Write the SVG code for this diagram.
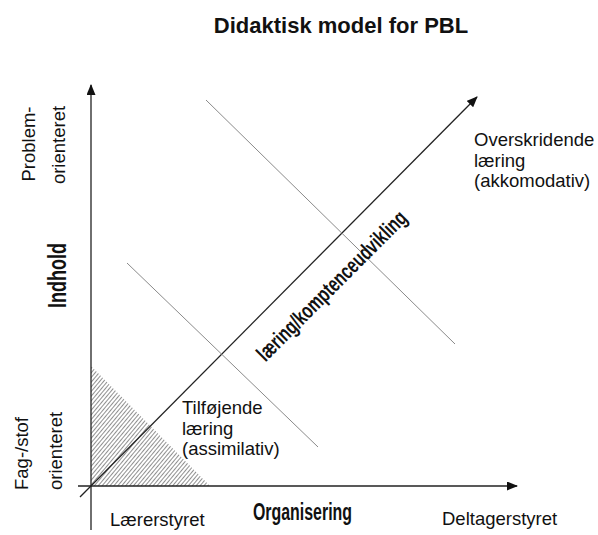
<svg xmlns="http://www.w3.org/2000/svg" width="598" height="535" viewBox="0 0 598 535">
<style>
  .lbl { font-family: "Liberation Sans", Arial, sans-serif; font-size: 18.5px; fill: #111; }
  .bold { font-family: "Liberation Sans", Arial, sans-serif; font-weight: bold; fill: #111; }
  .axis { stroke: #222; stroke-width: 1.3; fill: none; }
  .guide { stroke: #8a8a8a; stroke-width: 1; fill: none; }
</style>
<defs>
  <marker id="arrow" viewBox="0 0 11 9" refX="10" refY="4.5" markerWidth="11" markerHeight="9" markerUnits="userSpaceOnUse" orient="auto">
    <path d="M0,0 L11,4.5 L0,9 z" fill="#111"/>
  </marker>
  <pattern id="hatch" width="3" height="3" patternUnits="userSpaceOnUse" patternTransform="rotate(40)">
    <line x1="0" y1="0" x2="0" y2="3" stroke="#333" stroke-width="1.1"/>
  </pattern>
</defs>

<g id="title">
  <text class="bold" x="341" y="33" font-size="22" text-anchor="middle">Didaktisk model for PBL</text>
</g>

<g id="hatched-area">
  <polygon points="91,366 91,486 210,486" fill="url(#hatch)"/>
</g>

<g id="connectors">
  <line id="y-axis" class="axis" x1="91" y1="530" x2="91" y2="85" marker-end="url(#arrow)"/>
  <line id="x-axis" class="axis" x1="78" y1="486" x2="517" y2="486" marker-end="url(#arrow)"/>
  <line id="diagonal" class="axis" x1="80" y1="497" x2="477" y2="97" marker-end="url(#arrow)"/>
  <line id="guide-1" class="guide" x1="127" y1="263" x2="318" y2="447"/>
  <line id="guide-2" class="guide" x1="206" y1="100" x2="455" y2="344"/>
</g>

<g id="y-labels">
  <text class="lbl" transform="translate(35,144) rotate(-90)" text-anchor="middle">Problem-</text>
  <text class="lbl" transform="translate(65,145) rotate(-90)" text-anchor="middle">orienteret</text>
  <text class="lbl" transform="translate(28,490) rotate(-90)">Fag-/stof</text>
  <text class="lbl" transform="translate(62,490) rotate(-90)">orienteret</text>
  <text class="bold" transform="translate(66,308) rotate(-90)" font-size="26" textLength="65" lengthAdjust="spacingAndGlyphs">Indhold</text>
</g>

<g id="x-labels">
  <text class="lbl" x="110" y="526">Lærerstyret</text>
  <text class="bold" x="253" y="520" font-size="23" textLength="99" lengthAdjust="spacingAndGlyphs">Organisering</text>
  <text class="lbl" x="442" y="525">Deltagerstyret</text>
</g>

<g id="diagonal-label">
  <text class="bold" transform="translate(337,291) rotate(-45)" font-size="22" text-anchor="middle" textLength="202" lengthAdjust="spacingAndGlyphs">læring/komptenceudvikling</text>
</g>

<g id="tilfoejende">
  <text class="lbl" x="182" y="414">Tilføjende</text>
  <text class="lbl" x="182" y="434.5">læring</text>
  <text class="lbl" x="182" y="455">(assimilativ)</text>
</g>

<g id="overskridende">
  <text class="lbl" x="474" y="146">Overskridende</text>
  <text class="lbl" x="474" y="166.5">læring</text>
  <text class="lbl" x="474" y="187">(akkomodativ)</text>
</g>
</svg>
